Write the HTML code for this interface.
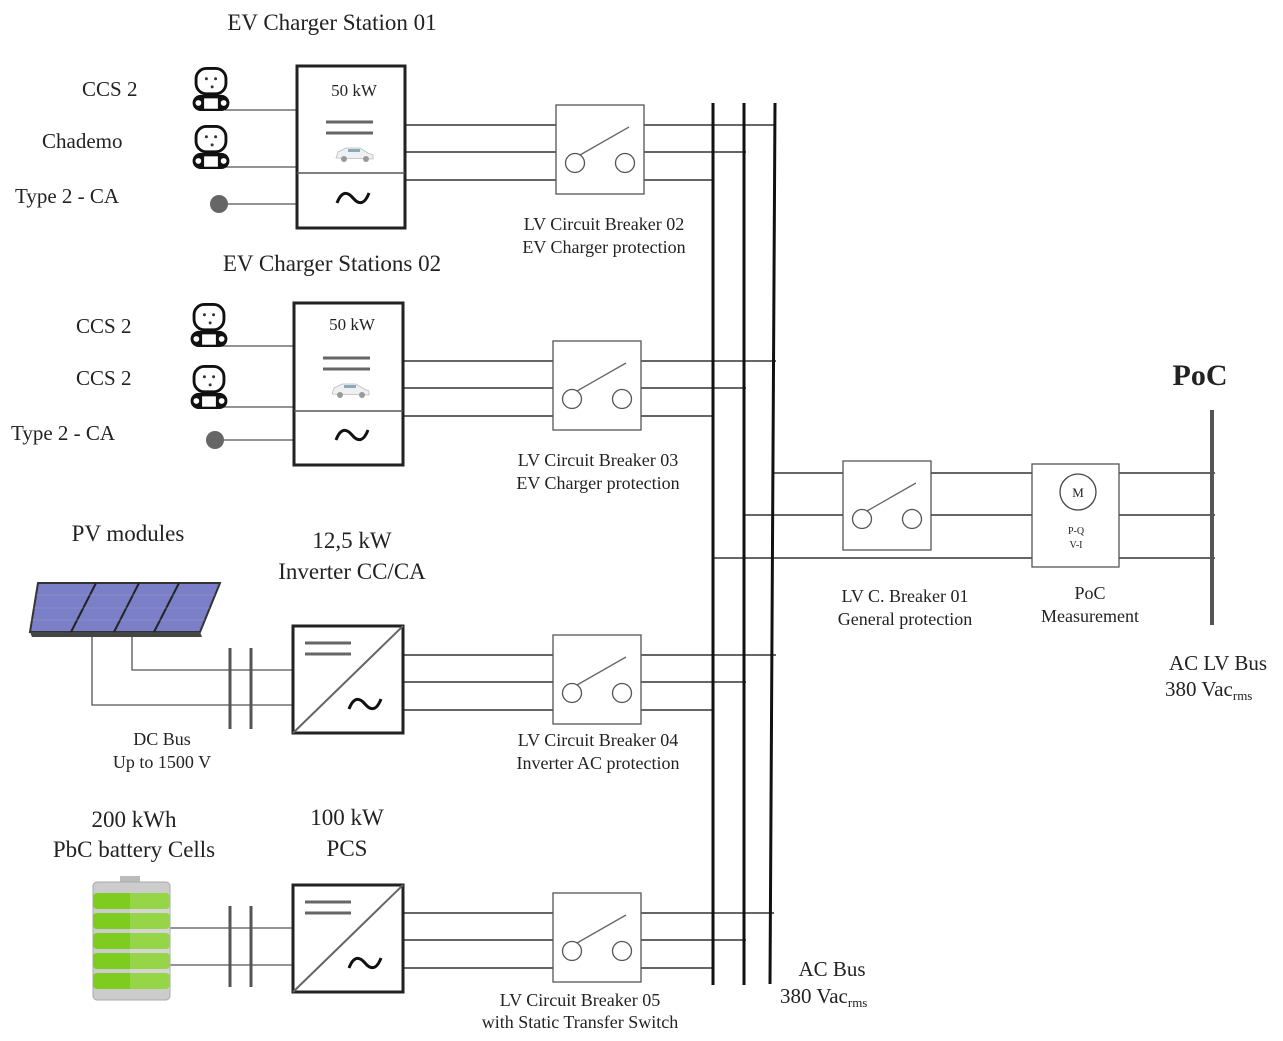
<!DOCTYPE html>
<html><head><meta charset="utf-8"><style>
body{margin:0;background:#fff}
svg text{font-family:"Liberation Serif",serif;fill:#222}
</style></head><body>
<svg width="1283" height="1036" viewBox="0 0 1283 1036" xmlns="http://www.w3.org/2000/svg">
<defs>
<path id="tilde" d="M-16,5 C-11,-8 -5,-6 0,0 C5,6 11,8 16,-5" fill="none" stroke="#111" stroke-width="3"/>
<g id="brk">
<rect x="0" y="0" width="88" height="89" fill="#fff" stroke="#555" stroke-width="1.3"/>
<circle cx="19" cy="58" r="9.5" fill="none" stroke="#555" stroke-width="1.3"/>
<circle cx="69" cy="58" r="9.5" fill="none" stroke="#555" stroke-width="1.3"/>
<line x1="24" y1="50" x2="73" y2="22" stroke="#666" stroke-width="1.3"/>
</g>
<g id="plug">
<rect x="-13" y="-17" width="26" height="22" rx="9" fill="#fff" stroke="#111" stroke-width="2.5"/>
<circle cx="-4" cy="-8" r="1.3" fill="#333"/><circle cx="4" cy="-8" r="1.3" fill="#333"/><circle cx="1" cy="-1" r="1.3" fill="#333"/>
<rect x="-16" y="6" width="32" height="14" rx="7" fill="#111"/>
<rect x="-6" y="9" width="12" height="9" fill="#fff"/>
<circle cx="-11" cy="13" r="2.5" fill="#fff"/><circle cx="11" cy="13" r="2.5" fill="#fff"/>
</g>
<g id="car">
<path d="M-18 4 L-16 -2 L-8 -6 L6 -6 L14 -1 L19 1 L19 5 Z" fill="#eef0f2" stroke="#bbb" stroke-width="0.8"/>
<rect x="-6" y="-5" width="12" height="3" fill="#8ab"/>
<circle cx="-10" cy="5" r="3" fill="#999"/><circle cx="12" cy="5" r="3" fill="#999"/>
</g>
<g id="conv">
<rect x="0" y="0" width="110" height="107" fill="#fff" stroke="#222" stroke-width="3"/>
<line x1="0" y1="107" x2="110" y2="0" stroke="#666" stroke-width="2"/>
<line x1="12" y1="17" x2="58" y2="17" stroke="#666" stroke-width="3"/>
<line x1="12" y1="28" x2="58" y2="28" stroke="#666" stroke-width="3"/>
<use href="#tilde" x="72" y="78"/>
</g>
</defs>

<g stroke="#333" stroke-width="1.5" fill="none">
<line x1="405" y1="125" x2="776" y2="125"/><line x1="405" y1="152" x2="746" y2="152"/><line x1="405" y1="180" x2="713" y2="180"/>
<line x1="403" y1="361" x2="776" y2="361"/><line x1="403" y1="388" x2="746" y2="388"/><line x1="403" y1="416" x2="713" y2="416"/>
<line x1="403" y1="655" x2="776" y2="655"/><line x1="403" y1="682" x2="746" y2="682"/><line x1="403" y1="710" x2="713" y2="710"/>
<line x1="403" y1="913" x2="774" y2="913"/><line x1="403" y1="940" x2="746" y2="940"/><line x1="403" y1="968" x2="713" y2="968"/>
<line x1="774" y1="473" x2="1215" y2="473"/><line x1="744" y1="515" x2="1215" y2="515"/><line x1="713" y1="558" x2="1215" y2="558"/>
</g>
<g stroke="#111" stroke-width="3">
<line x1="713" y1="103" x2="713" y2="985"/>
<line x1="744" y1="103" x2="744" y2="985"/>
<line x1="775" y1="103" x2="770" y2="984"/>
</g>
<line x1="1212" y1="410" x2="1212" y2="625" stroke="#555" stroke-width="4"/>

<use href="#brk" x="556" y="105"/>
<use href="#brk" x="553" y="341"/>
<use href="#brk" x="553" y="635"/>
<use href="#brk" x="553" y="893"/>
<use href="#brk" x="843" y="461"/>

<rect x="1032" y="464" width="87" height="103" fill="#fff" stroke="#555" stroke-width="1.3"/>
<circle cx="1078" cy="492" r="18" fill="#fff" stroke="#444" stroke-width="1.3"/>
<text x="1078" y="497" font-size="13" text-anchor="middle">M</text>
<text x="1076" y="534" font-size="10" text-anchor="middle" fill="#666">P-Q</text>
<text x="1076" y="548" font-size="10" text-anchor="middle" fill="#666">V-I</text>

<g stroke="#555" stroke-width="1.3">
<line x1="225" y1="110" x2="298" y2="110"/><line x1="225" y1="167" x2="298" y2="167"/><line x1="220" y1="204" x2="298" y2="204"/>
<line x1="220" y1="346" x2="295" y2="346"/><line x1="220" y1="407" x2="295" y2="407"/><line x1="216" y1="440" x2="295" y2="440"/>
</g>
<rect x="297" y="66" width="108" height="162" fill="#fff" stroke="#222" stroke-width="3"/>
<line x1="297" y1="173" x2="405" y2="173" stroke="#555" stroke-width="1.5"/>
<text x="354" y="96" font-size="17" text-anchor="middle">50 kW</text>
<line x1="326" y1="122" x2="373" y2="122" stroke="#666" stroke-width="3"/>
<line x1="326" y1="133" x2="373" y2="133" stroke="#666" stroke-width="3"/>
<use href="#car" x="354" y="154"/>
<use href="#tilde" x="353" y="198"/>
<g transform="translate(211,88) scale(1.15)"><use href="#plug"/></g>
<g transform="translate(211,146) scale(1.15)"><use href="#plug"/></g>
<circle cx="219" cy="204" r="9" fill="#666"/>

<rect x="294" y="303" width="109" height="162" fill="#fff" stroke="#222" stroke-width="3"/>
<line x1="294" y1="411" x2="403" y2="411" stroke="#555" stroke-width="1.5"/>
<text x="352" y="330" font-size="17" text-anchor="middle">50 kW</text>
<line x1="323" y1="358" x2="370" y2="358" stroke="#666" stroke-width="3"/>
<line x1="323" y1="369" x2="370" y2="369" stroke="#666" stroke-width="3"/>
<use href="#car" x="350" y="390"/>
<use href="#tilde" x="352" y="435"/>
<g transform="translate(209,324) scale(1.15)"><use href="#plug"/></g>
<g transform="translate(209,386) scale(1.15)"><use href="#plug"/></g>
<circle cx="215" cy="440" r="9" fill="#666"/>

<polygon points="38,583 220,583 200,632 30,632" fill="#7a7fc8" stroke="#333" stroke-width="2"/>
<polygon points="30,632 200,632 202,637 32,637" fill="#444"/>
<g stroke="#222" stroke-width="2"><line x1="96" y1="583" x2="71" y2="632"/><line x1="139" y1="583" x2="114" y2="632"/><line x1="179" y1="583" x2="154" y2="632"/></g>
<g stroke="#aab" stroke-width="0.6" opacity="0.7"><line x1="36" y1="595" x2="215" y2="595"/><line x1="33" y1="608" x2="210" y2="608"/><line x1="31" y1="620" x2="205" y2="620"/></g>
<g stroke="#555" stroke-width="1.3" fill="none">
<polyline points="132,637 132,670 296,670"/>
<polyline points="92,637 92,705 296,705"/>
<polyline points="170,928 296,928"/><polyline points="170,965 296,965"/>
</g>
<g stroke="#555" stroke-width="3">
<line x1="230" y1="648" x2="230" y2="729"/><line x1="251" y1="648" x2="251" y2="729"/>
<line x1="230" y1="906" x2="230" y2="987"/><line x1="251" y1="906" x2="251" y2="987"/>
</g>
<use href="#conv" x="293" y="626"/>
<use href="#conv" x="293" y="885"/>

<rect x="120" y="876" width="20" height="8" fill="#bbb"/>
<rect x="93" y="882" width="77" height="118" rx="4" fill="#ccc" stroke="#aaa"/>
<g fill="#7fcc20">
<rect x="93" y="893" width="77" height="16" rx="4"/><rect x="93" y="913" width="77" height="16" rx="4"/><rect x="93" y="933" width="77" height="16" rx="4"/><rect x="93" y="953" width="77" height="16" rx="4"/><rect x="93" y="973" width="77" height="16" rx="4"/>
</g>
<rect x="130" y="893" width="40" height="96" fill="#fff" opacity="0.18"/>

<g font-size="21">
<text x="332" y="30" text-anchor="middle" font-size="23">EV Charger Station 01</text>
<text x="82" y="96">CCS 2</text>
<text x="42" y="148">Chademo</text>
<text x="15" y="203">Type 2 - CA</text>
<text x="332" y="271" text-anchor="middle" font-size="23">EV Charger Stations 02</text>
<text x="76" y="333">CCS 2</text>
<text x="76" y="385">CCS 2</text>
<text x="11" y="440">Type 2 - CA</text>
<text x="128" y="541" text-anchor="middle" font-size="23">PV modules</text>
<text x="352" y="548" text-anchor="middle" font-size="23">12,5 kW</text>
<text x="352" y="579" text-anchor="middle" font-size="23">Inverter CC/CA</text>
<text x="134" y="827" text-anchor="middle" font-size="23">200 kWh</text>
<text x="134" y="857" text-anchor="middle" font-size="23">PbC battery Cells</text>
<text x="347" y="825" text-anchor="middle" font-size="23">100 kW</text>
<text x="347" y="856" text-anchor="middle" font-size="23">PCS</text>
<text x="1200" y="385" text-anchor="middle" font-size="30" font-weight="bold">PoC</text>
</g>
<g font-size="18" text-anchor="middle">
<text x="604" y="230">LV Circuit Breaker 02</text><text x="604" y="253">EV Charger protection</text>
<text x="598" y="466">LV Circuit Breaker 03</text><text x="598" y="489">EV Charger protection</text>
<text x="598" y="746">LV Circuit Breaker 04</text><text x="598" y="769">Inverter AC protection</text>
<text x="580" y="1006">LV Circuit Breaker 05</text><text x="580" y="1028">with Static Transfer Switch</text>
<text x="162" y="745">DC Bus</text><text x="162" y="768">Up to 1500 V</text>
<text x="905" y="602">LV C. Breaker 01</text><text x="905" y="625">General protection</text>
<text x="1090" y="599">PoC</text><text x="1090" y="622">Measurement</text>
</g>
<g font-size="21">
<text x="832" y="976" text-anchor="middle">AC Bus</text>
<text x="780" y="1003">380 Vac<tspan font-size="13" dy="4">rms</tspan></text>
<text x="1218" y="670" text-anchor="middle">AC LV Bus</text>
<text x="1165" y="696">380 Vac<tspan font-size="13" dy="4">rms</tspan></text>
</g>
</svg>
</body></html>
